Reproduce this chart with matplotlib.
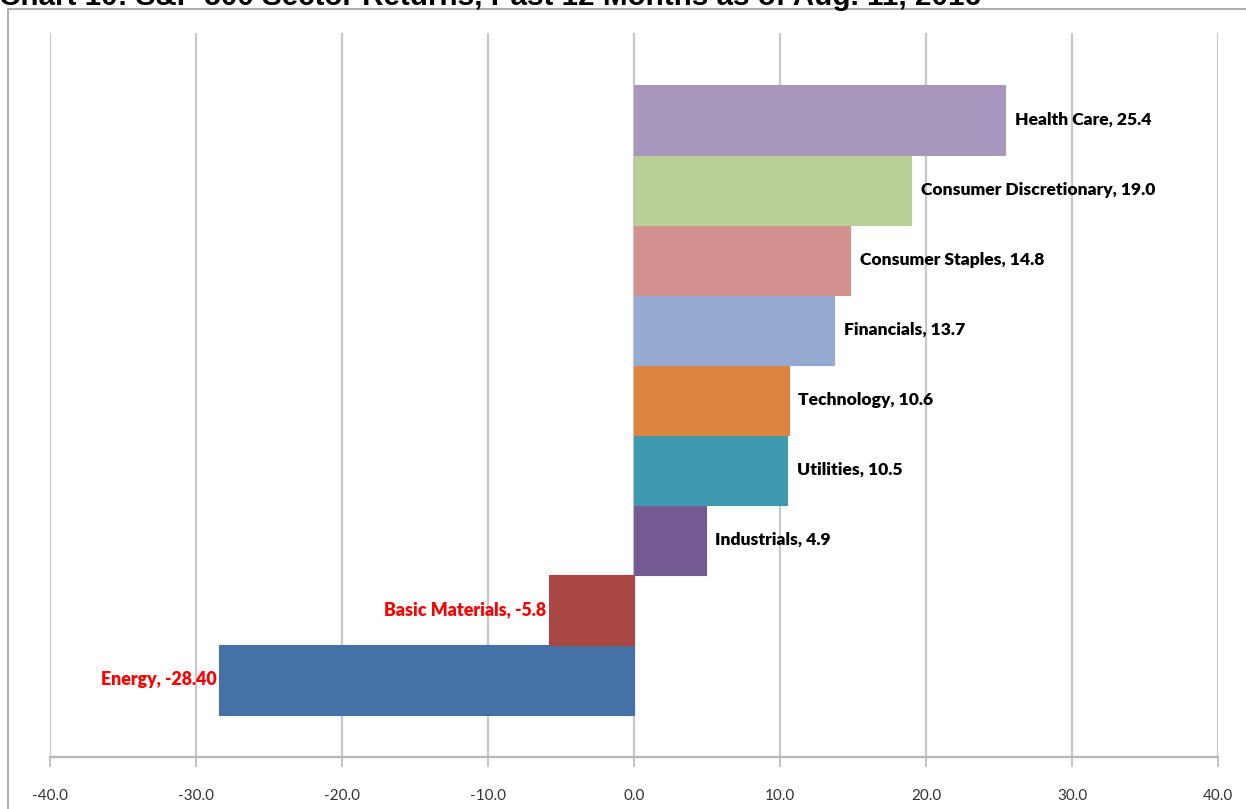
import matplotlib
matplotlib.use("Agg")
import matplotlib.pyplot as plt
from matplotlib.patches import Rectangle

# Sector returns (%), bottom to top
sectors = ["Energy", "Basic Materials", "Industrials", "Utilities", "Technology",
           "Financials", "Consumer Staples", "Consumer Discretionary", "Health Care"]
returns = [-28.40, -5.8, 4.9, 10.5, 10.6, 13.7, 14.8, 19.0, 25.4]
value_text = ["-28.40", "-5.8", "4.9", "10.5", "10.6", "13.7", "14.8", "19.0", "25.4"]
colors = ["#4571A6", "#A84744", "#735A92", "#409AAF", "#DD843F",
          "#95A9D1", "#D39190", "#B8CF96", "#A797BD"]
xticks = [-40, -30, -20, -10, 0, 10, 20, 30, 40]
title = "Chart 10: S&P 500 Sector Returns, Past 12 Months as of Aug. 11, 2016"

W, H = 1246, 809
fig = plt.figure(figsize=(W / 100, H / 100), dpi=100)
fig.patch.set_facecolor("white")

# outer chart frame
fig.patches.append(Rectangle((8 / W, -0.1), 1.2, 1 - 9 / H + 0.1, transform=fig.transFigure,
                             fill=False, edgecolor="#a0a0a0", linewidth=1.2))

fig.text(-1 / W, 1 - 5 / H, title, fontsize=21.3, fontweight="bold",
         family="Liberation Sans", va="baseline", ha="left", color="black")

left, right = 50 / W, 1218 / W
bottom, top = 1 - 757 / H, 1 - 33 / H
ax = fig.add_axes([left, bottom, right - left, top - bottom])
ax.set_xlim(-40, 40)
ax.set_ylim(-1.1, 9.24)

ypos = list(range(len(sectors)))
ax.barh(ypos, returns, height=1.0, color=colors, edgecolor=colors, linewidth=0.8, zorder=3)

for y, v, name, t in zip(ypos, returns, sectors, value_text):
    label = f"{name}, {t}"
    if v >= 0:
        ax.annotate(label, (v, y), xytext=(7, 0), textcoords="offset points",
                    ha="left", va="center", fontsize=12.6, fontweight="heavy",
                    family="Lato", color="black", zorder=4)
    else:
        ax.annotate(label, (v, y), xytext=(-2, 0), textcoords="offset points",
                    ha="right", va="center", fontsize=12.8, fontweight="heavy",
                    family="Lato", color="#FF0000", zorder=4)

ax.set_xticks(xticks)
ax.set_xticklabels([f"{x:.1f}" for x in xticks], fontsize=11, family="Lato",
                   color="#333333")
ax.set_yticks([])
ax.grid(axis="x", color="#c8c8c8", linewidth=1.6, zorder=0)
for s in ["left", "right", "top"]:
    ax.spines[s].set_visible(False)
ax.spines["bottom"].set_color("#b8b8b8")
ax.spines["bottom"].set_linewidth(1.6)
ax.tick_params(axis="x", length=7, width=1.2, color="#b8b8b8", pad=16)

fig.savefig("out.png", dpi=100)
